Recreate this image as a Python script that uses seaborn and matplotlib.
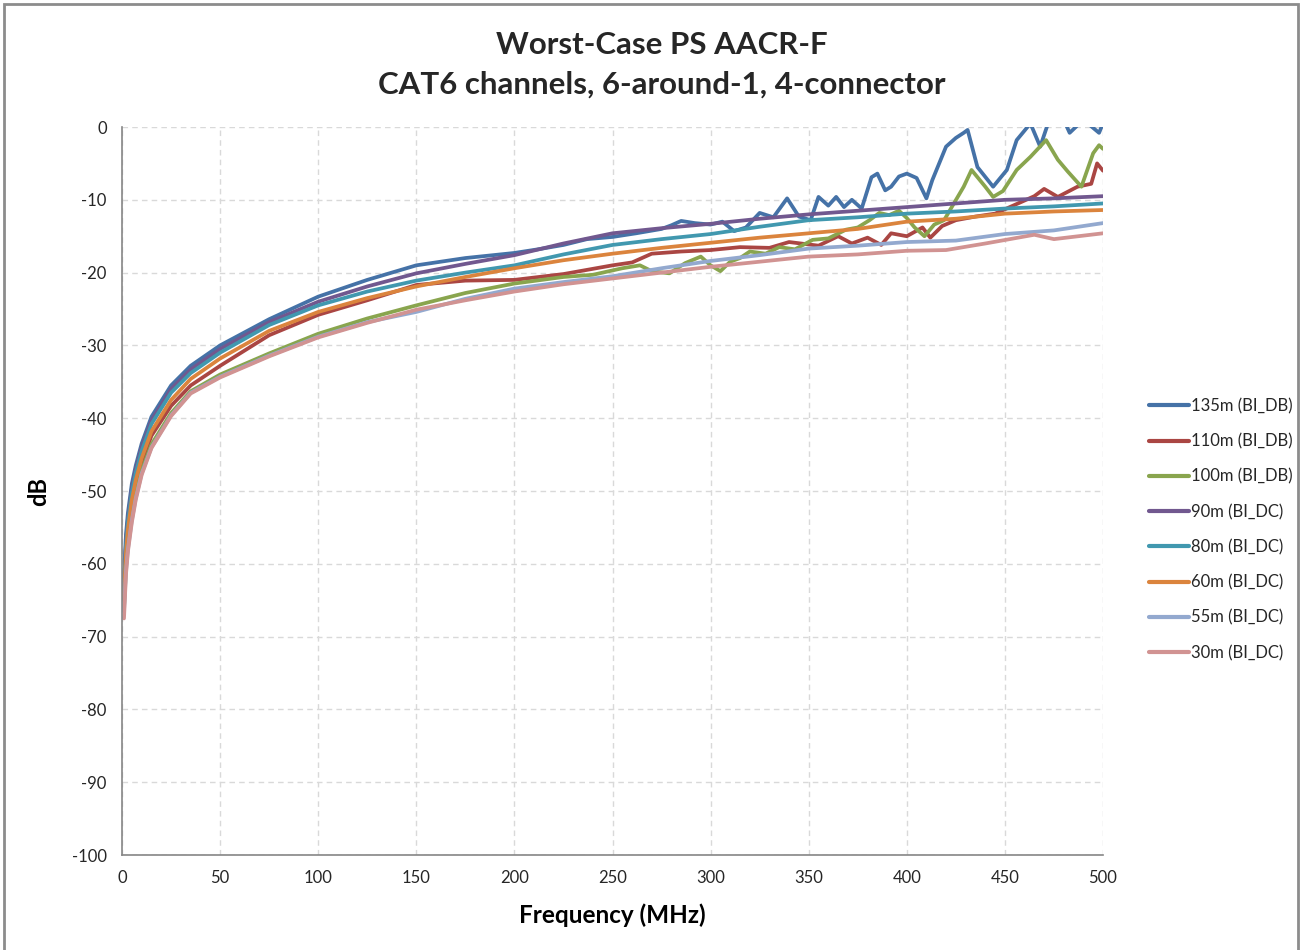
import matplotlib
matplotlib.use("Agg")
import matplotlib.pyplot as plt
import seaborn as sns
import pandas as pd
from matplotlib.patches import Rectangle
from matplotlib.lines import Line2D

# ---------------- data ----------------
series_names = ["135m (BI_DB)", "110m (BI_DB)", "100m (BI_DB)", "90m (BI_DC)",
                "80m (BI_DC)", "60m (BI_DC)", "55m (BI_DC)", "30m (BI_DC)"]

colors = ["#4572A7", "#AA4643", "#89A54E", "#71588F",
          "#4198AF", "#DB843D", "#93A9CF", "#D19392"]

low_f = [1, 2, 3, 5, 7, 10, 15, 25, 35, 50, 75]

f_135 = low_f + [100, 125, 150, 175, 200, 212, 225, 237, 250, 262, 275, 280, 285, 292,
                 300, 306, 312, 318, 325, 332, 339, 345, 351, 355, 360, 364, 368, 372,
                 377, 382, 385, 389, 392, 396, 400, 405, 410, 413, 420, 425, 429, 431,
                 436, 444, 451, 456, 460, 463, 468, 472, 480, 483, 490, 498, 500]
db_135 = [-62, -56, -53, -49, -46.5, -43.5, -39.8, -35.5, -32.8, -30.0, -26.4,
          -23.3, -21.0, -19.0, -18.0, -17.3, -16.8, -16.2, -15.4, -15.1, -14.6, -14.0,
          -13.5, -12.9, -13.2, -13.4, -13.0, -14.3, -13.8, -11.8, -12.4, -9.8, -12.3,
          -12.8, -9.6, -10.8, -9.6, -11.0, -10.0, -11.2, -6.9, -6.4, -8.7, -8.2, -6.8,
          -6.4, -7.0, -9.8, -7.3, -2.7, -1.5, -0.8, -0.4, -5.5, -8.2, -5.9, -1.8, -0.5,
          0.5, -2.7, 0.5, 1.0, -0.8, 1.0, -0.8, 0.5]

f_110 = low_f + [100, 125, 150, 175, 200, 225, 250, 260, 270, 285, 300, 315, 330, 340,
                 355, 365, 372, 380, 387, 392, 400, 408, 412, 418, 425, 435, 445, 455,
                 465, 470, 477, 487, 494, 497, 500]
db_110 = [-65, -59, -56, -52, -49.2, -46.2, -42.4, -38.3, -35.5, -32.8, -28.6,
          -25.8, -23.8, -21.7, -21.1, -21.0, -20.2, -19.0, -18.6, -17.4, -17.1, -16.9,
          -16.5, -16.6, -15.8, -16.3, -15.0, -16.0, -15.2, -16.2, -14.6, -15.0, -13.8,
          -15.2, -13.6, -12.8, -12.3, -11.9, -10.7, -9.5, -8.5, -9.6, -8.2, -7.8,
          -5.0, -6.0]

f_100 = low_f + [100, 125, 150, 175, 200, 225, 240, 255, 264, 270, 279, 287, 295, 300,
                 305, 310, 315, 320, 328, 335, 343, 352, 360, 369, 375, 381, 386, 391,
                 396, 400, 404, 409, 414, 419, 424, 429, 433, 440, 444, 449, 456, 463,
                 471, 477, 482, 489, 495, 498, 500]
db_100 = [-66, -60.5, -57.5, -53.5, -50.5, -47.2, -43.6, -39.3, -36.3, -34.0, -31.1,
          -28.4, -26.3, -24.5, -22.8, -21.5, -20.6, -20.3, -19.4, -19.0, -19.8, -20.1,
          -18.7, -17.8, -19.0, -19.8, -18.5, -18.0, -17.1, -17.4, -16.5, -16.8, -15.5,
          -15.3, -14.1, -13.8, -12.8, -11.8, -12.1, -11.5, -12.5, -13.8, -15.0, -13.4,
          -12.8, -10.5, -8.2, -5.9, -8.2, -9.6, -8.8, -5.9, -4.1, -1.8, -4.5, -6.1,
          -8.2, -3.6, -2.5, -3.0]

f_90 = low_f + [100, 125, 150, 175, 200, 225, 250, 275, 300, 325, 350, 375, 400, 425,
                450, 475, 500]
db_90 = [-63, -57, -53.8, -49.7, -47, -44, -40.3, -36, -33.3, -30.5, -26.8,
         -24.0, -21.9, -20.1, -18.8, -17.6, -16.0, -14.6, -13.9, -13.3, -12.6, -12.0,
         -11.5, -11.0, -10.5, -10.0, -9.8, -9.5]

f_80 = low_f + [100, 125, 150, 175, 200, 225, 250, 275, 300, 325, 350, 375, 400, 425,
                450, 475, 500]
db_80 = [-63.5, -57.5, -54.3, -50.2, -47.5, -44.5, -40.8, -36.5, -33.8, -31.0, -27.2,
         -24.5, -22.6, -21.1, -20.0, -19.0, -17.5, -16.2, -15.4, -14.7, -13.7, -12.8,
         -12.4, -11.9, -11.6, -11.2, -10.9, -10.5]

f_60 = low_f + [100, 125, 150, 175, 200, 225, 250, 275, 300, 325, 350, 375, 400, 425,
                450, 475, 500]
db_60 = [-64.5, -58.5, -55.3, -51.2, -48.5, -45.5, -41.8, -37.5, -34.6, -31.8, -28.0,
         -25.4, -23.5, -21.9, -20.6, -19.4, -18.3, -17.4, -16.6, -15.9, -15.2, -14.6,
         -14.0, -13.0, -12.6, -11.9, -11.6, -11.4]

f_55 = low_f + [100, 125, 150, 175, 200, 225, 250, 275, 300, 325, 350, 375, 400, 425,
                450, 475, 500]
db_55 = [-66.5, -61, -58, -54, -51, -47.6, -44.0, -39.6, -36.5, -34.3, -31.4,
         -28.8, -26.8, -25.4, -23.6, -22.2, -21.3, -20.5, -19.4, -18.4, -17.6, -16.7,
         -16.3, -15.8, -15.6, -14.7, -14.2, -13.2]

f_30 = low_f + [100, 125, 150, 175, 200, 225, 250, 275, 300, 325, 350, 375, 400, 420,
                440, 465, 475, 500]
db_30 = [-67.5, -61.5, -58.3, -54.3, -51.2, -47.8, -44.1, -39.7, -36.6, -34.4, -31.5,
         -28.9, -26.9, -25.1, -23.8, -22.6, -21.6, -20.8, -20.0, -19.2, -18.5, -17.8,
         -17.5, -17.0, -16.9, -16.0, -14.8, -15.4, -14.6]

x_ticks = [0, 50, 100, 150, 200, 250, 300, 350, 400, 450, 500]
y_ticks = [0, -10, -20, -30, -40, -50, -60, -70, -80, -90, -100]

title_text = "Worst-Case PS AACR-F\nCAT6 channels, 6-around-1, 4-connector"
x_label = "Frequency (MHz)"
y_label = "dB"

# ---------------- build long table ----------------
freqs = [f_135, f_110, f_100, f_90, f_80, f_60, f_55, f_30]
vals = [db_135, db_110, db_100, db_90, db_80, db_60, db_55, db_30]
frames = []
for name, fx, vy in zip(series_names, freqs, vals):
    frames.append(pd.DataFrame({"Frequency": fx, "dB": vy, "series": name}))
df = pd.concat(frames, ignore_index=True)
palette = dict(zip(series_names, colors))

# ---------------- plot ----------------
sns.set_theme(style="white")
plt.rcParams["font.family"] = ["Lato", "DejaVu Sans"]
plt.rcParams["axes.unicode_minus"] = False

fig = plt.figure(figsize=(13.01, 9.5), dpi=100)
ax = fig.add_axes([0.0938, 0.1, 0.754, 0.7663])

sns.lineplot(data=df, x="Frequency", y="dB", hue="series", palette=palette,
             hue_order=series_names, estimator=None, sort=False,
             linewidth=2.7, ax=ax, legend=False)

ax.set_xlim(0, 500)
ax.set_ylim(-100, 0)
ax.set_xticks(x_ticks)
ax.set_yticks(y_ticks)
ax.tick_params(axis="both", labelsize=12, length=5, width=1, direction="out",
               color="#868686", pad=6)
for lab in ax.get_xticklabels() + ax.get_yticklabels():
    lab.set_color("#262626")

ax.grid(True, linestyle=(0, (4, 3)), color="#d9d9d9", linewidth=1)
for s in ["top", "right"]:
    ax.spines[s].set_visible(False)
for s in ["left", "bottom"]:
    ax.spines[s].set_color("#868686")
    ax.spines[s].set_linewidth(1.2)

ax.set_xlabel(x_label, fontsize=17.5, fontweight="bold", color="#000000", labelpad=12)
ax.set_ylabel(y_label, fontsize=17, fontweight="bold", color="#000000")
ax.yaxis.set_label_coords(-0.073, 0.5)

fig.text(0.509, 0.967, title_text, ha="center", va="top", fontsize=22.5,
         fontweight="bold", linespacing=1.5)

handles = [Line2D([0], [0], color=c, lw=3) for c in colors]
leg = ax.legend(handles, series_names, loc="center left",
                bbox_to_anchor=(1.0316, 0.447), frameon=False, fontsize=12,
                handlelength=2.4, handletextpad=0.1, labelspacing=1.15)

fig.patches.append(Rectangle((0.003, -0.01), 0.995, 1.006, transform=fig.transFigure,
                             fill=False, edgecolor="#8c8c8c", linewidth=2))

fig.savefig("out.png", dpi=100)
